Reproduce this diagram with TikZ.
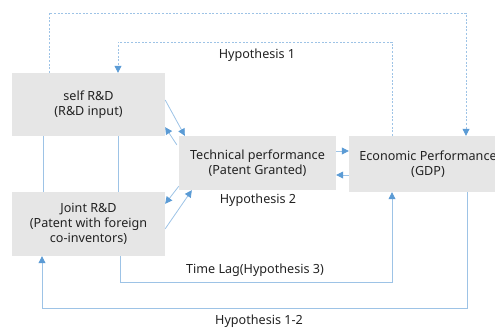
\documentclass[tikz,border=0pt]{standalone}
\usepackage{fontspec}
\setmainfont{Noto Sans}
\usetikzlibrary{arrows.meta}
\definecolor{boxgray}{HTML}{E6E6E6}
\definecolor{linkblue}{HTML}{9DC3E6}
\definecolor{tipblue}{HTML}{5B9BD5}
\definecolor{txt}{HTML}{222222}
\tikzset{
  box/.style={rectangle, fill=boxgray, draw=none, align=center, text=txt,
    font=\fontsize{12.6}{15}\selectfont, inner sep=0pt},
  lbl/.style={text=txt, font=\fontsize{12.6}{15}\selectfont, inner sep=0pt},
  link/.style={draw=linkblue, line width=0.8pt},
  dotlink/.style={draw=linkblue, line width=0.8pt, dash pattern=on 2pt off 1.6pt},
  tip/.style={-{Triangle[length=7pt,width=7pt,fill=tipblue,color=tipblue]}}
}
\begin{document}
\begin{tikzpicture}[x=1pt,y=-1pt]
\useasboundingbox (0,0) rectangle (495,329);

% boxes
\node[box, minimum width=153pt, minimum height=63pt] (self) at (88.5,104.5)
  {self R\&D\\(R\&D input)};
\node[box, minimum width=153pt, minimum height=64pt] (joint) at (88.5,224)
  {Joint R\&D\\(Patent with foreign\\co-inventors)};
\node[box, minimum width=157pt, minimum height=54pt] (tech) at (257.5,163)
  {Technical performance\\(Patent Granted)};
\node[box, minimum width=158pt, minimum height=56pt] (econ) at (428,164)
  {Economic Performance\\(GDP)};

% routing corners
\coordinate (c1) at (49,13);
\coordinate (c2) at (466,13);
\coordinate (c3) at (118,42);
\coordinate (c4) at (392,42);
\coordinate (v1) at (43,0);
\coordinate (v2) at (118,0);
\coordinate (c5) at (120,282);
\coordinate (c6) at (392,282);
\coordinate (c7) at (467,308);
\coordinate (c8) at (42,308);

% hypothesis 1 (dotted loops)
\draw[dotlink, tip] (self.north -| c1) |- (c2) -- (econ.north -| c2);
\draw[dotlink, tip] (econ.north -| c4) |- (c3) -- (self.north -| c3);

% self R&D -- joint R&D
\draw[link] (self.south -| v1) -- (joint.north -| v1);
\draw[link] (self.south -| v2) -- (joint.north -| v2);

% R&D <-> technical performance
\draw[link, tip] ([yshift=4.5pt]self.east) -- ([xshift=6pt]tech.north west);
\draw[link, tip] ([xshift=-2pt,yshift=-9pt]tech.north west) -- ([yshift=9pt]self.south east);
\draw[link, tip] ([yshift=4pt]tech.south west) -- ([yshift=-12pt]joint.north east);
\draw[link, tip] ([yshift=-37pt]joint.north east) -- ([xshift=13pt]tech.south west);

% technical <-> economic
\coordinate (t1) at ([yshift=12pt]tech.east);
\coordinate (t2) at ([yshift=-11pt]econ.west);
\draw[link, tip] (t1) -- (t1 -| econ.west);
\draw[link, tip] (t2) -- (t2 -| tech.east);

% time lag and hypothesis 1-2
\draw[link, tip] (joint.south -| c5) |- (c6) -- (econ.south -| c6);
\draw[link, tip] (econ.south -| c7) |- (c8) -- (joint.south -| c8);

% labels
\node[lbl] (h1) at (257,55) {Hypothesis 1};
\node[lbl] (h2) at (258,200) {Hypothesis 2};
\node[lbl] (h3) at (255,270) {Time Lag(Hypothesis 3)};
\node[lbl] (h12) at (259,321) {Hypothesis 1-2};
\end{tikzpicture}
\end{document}
